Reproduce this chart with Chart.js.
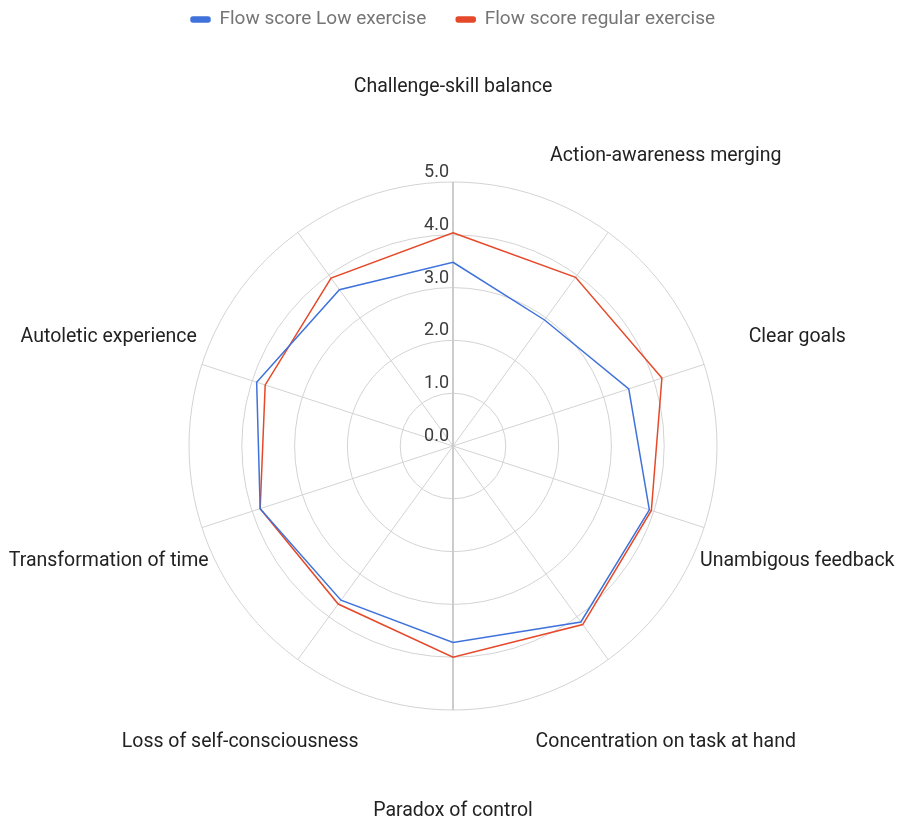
<!DOCTYPE html>
<html>
<head>
<meta charset="utf-8">
<script src="https://cdn.jsdelivr.net/npm/chart.js@4.4.0/dist/chart.umd.min.js"></script>
<style>
  html, body { margin: 0; padding: 0; background: #ffffff; }
  #wrap { width: 902px; height: 823px; }
</style>
</head>
<body>
<div id="wrap"><canvas id="flowChart" width="902" height="823"></canvas></div>
<script>
// Flow dimensions (the last spoke carries no label)
const categories = [
  'Challenge-skill balance',
  'Action-awareness merging',
  'Clear goals',
  'Unambigous feedback',
  'Concentration on task at hand',
  'Paradox of control',
  'Loss of self-consciousness',
  'Transformation of time',
  'Autoletic experience',
  ''
];

const seriesNames = ['Flow score Low exercise', 'Flow score regular exercise'];
const lowExercise = [3.48, 2.95, 3.50, 3.91, 4.12, 3.72, 3.61, 3.84, 3.91, 3.66];
const regularExercise = [4.04, 3.95, 4.16, 3.95, 4.18, 4.00, 3.70, 3.84, 3.74, 3.93];

const tickValues = [0, 1, 2, 3, 4, 5];
const tickLabels = ['0.0', '1.0', '2.0', '3.0', '4.0', '5.0'];

const BLUE = '#3f72da';
const RED = '#e5492a';
const FONT = 'Roboto';

// Category names around the web and value labels along the vertical spoke
const radarText = {
  id: 'radarText',
  afterDraw(chart) {
    const s = chart.scales.r;
    const ctx = chart.ctx;
    ctx.save();
    ctx.font = '19.5px ' + FONT;
    ctx.fillStyle = '#222222';
    ctx.textAlign = 'center';
    ctx.textBaseline = 'middle';
    categories.forEach((name, i) => {
      const p = s.getPointPosition(i, s.drawingArea + 98);
      ctx.fillText(name, p.x, p.y + 3);
    });
    ctx.font = '18px ' + FONT;
    ctx.fillStyle = '#3c3c3c';
    ctx.textAlign = 'right';
    ctx.textBaseline = 'alphabetic';
    tickValues.forEach((v, i) => {
      const d = s.getDistanceFromCenterForValue(v);
      ctx.fillText(tickLabels[i], s.xCenter - 4, s.yCenter - d - 5);
    });
    ctx.restore();
  }
};

new Chart(document.getElementById('flowChart'), {
  type: 'radar',
  data: {
    labels: categories,
    datasets: [
      {
        label: seriesNames[0],
        data: lowExercise,
        borderColor: BLUE,
        backgroundColor: BLUE,
        borderWidth: 1.5,
        pointRadius: 0,
        pointHoverRadius: 0,
        fill: false,
        tension: 0
      },
      {
        label: seriesNames[1],
        data: regularExercise,
        borderColor: RED,
        backgroundColor: RED,
        borderWidth: 1.5,
        pointRadius: 0,
        pointHoverRadius: 0,
        fill: false,
        tension: 0
      }
    ]
  },
  options: {
    responsive: false,
    animation: false,
    devicePixelRatio: 1,
    layout: { padding: { top: -20, left: 4, right: 0, bottom: 113 } },
    plugins: {
      legend: {
        position: 'top',
        labels: {
          font: { family: FONT, size: 19 },
          color: '#757575',
          boxWidth: 19,
          boxHeight: 5,
          padding: 30,
          useBorderRadius: true,
          borderRadius: 2
        }
      },
      // empty spacer box between the legend and the plot
      title: {
        display: true,
        text: '',
        weight: 100,
        padding: { top: 131, bottom: 0 },
        font: { size: 10 }
      },
      tooltip: { enabled: false }
    },
    scales: {
      r: {
        min: 0,
        max: 5,
        startAngle: 0,
        ticks: { display: false, stepSize: 1 },
        pointLabels: { display: false },
        grid: { circular: true, color: '#d3d3d3', lineWidth: 1 },
        angleLines: {
          color: (c) => (c.index === 0 || c.index === 5) ? '#cccccc' : '#d3d3d3',
          lineWidth: (c) => (c.index === 0 || c.index === 5) ? 2 : 1
        }
      }
    }
  },
  plugins: [radarText]
});
</script>
</body>
</html>
